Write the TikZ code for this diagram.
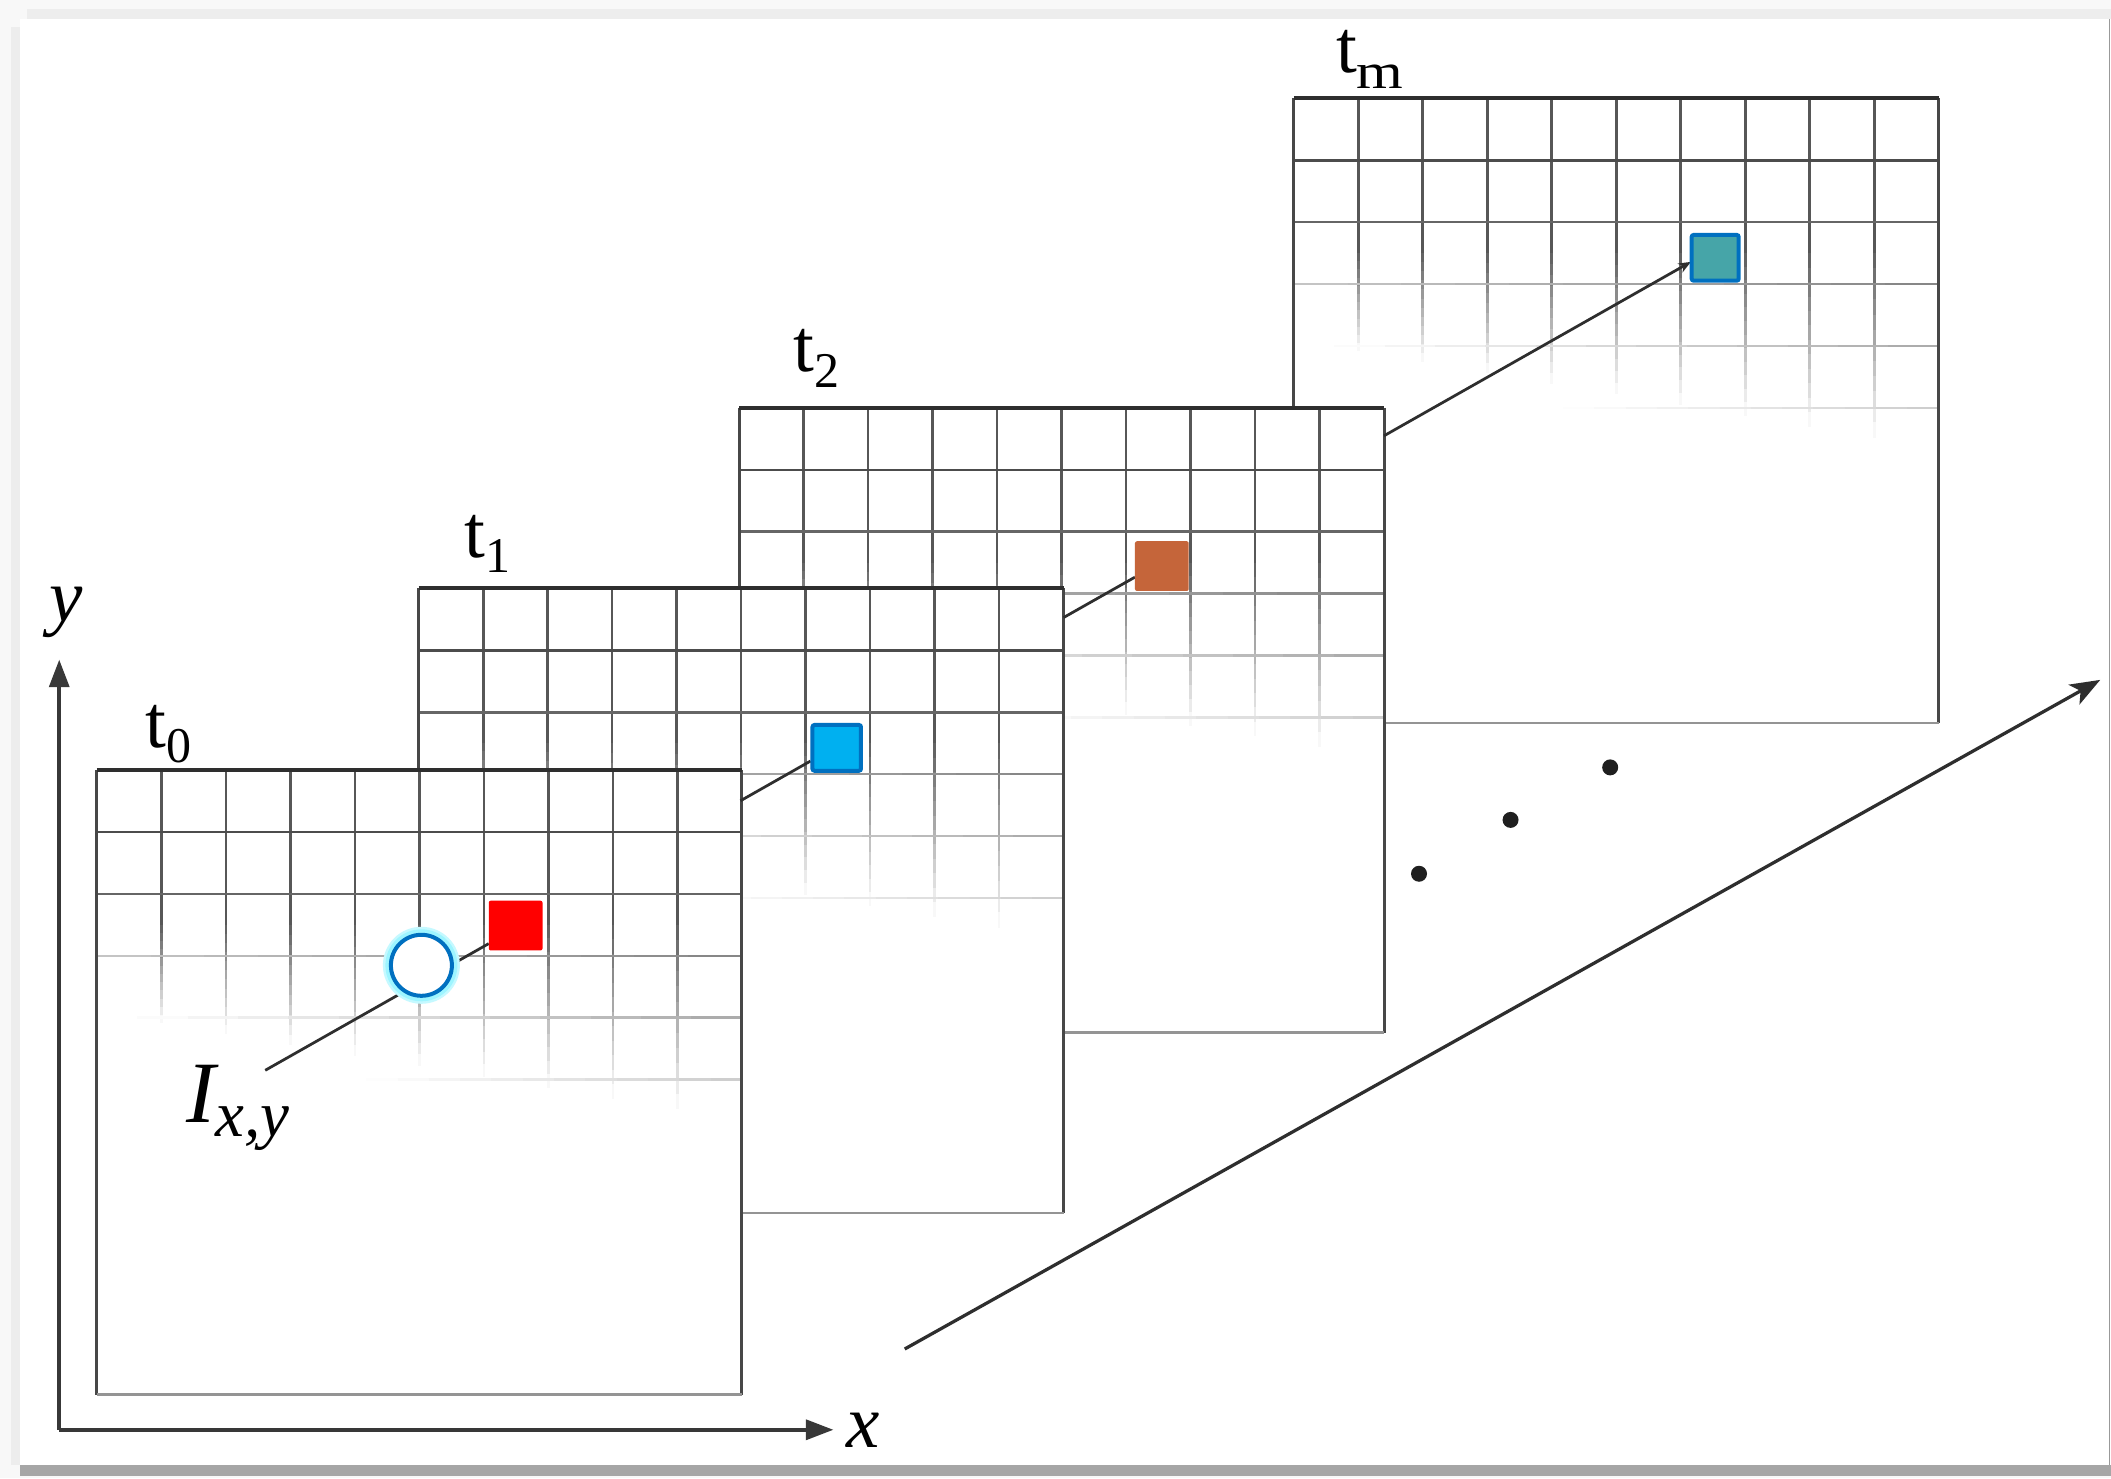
\documentclass[tikz,border=0pt]{standalone}
\usepackage{fontspec}
\setmainfont{Liberation Serif}
\usetikzlibrary{arrows.meta}
\definecolor{pixred}{HTML}{FF0000}
\definecolor{pixblue}{HTML}{00B0F0}
\definecolor{pixborder}{HTML}{0070C0}
\definecolor{pixorange}{HTML}{C5653A}
\definecolor{pixteal}{HTML}{46A5A8}
\definecolor{glowc}{HTML}{9EF5FF}
\definecolor{bgout}{HTML}{F8F8F8}
\definecolor{stripc}{HTML}{EDEDED}
\definecolor{bandc}{HTML}{A6A6A6}
\newcommand{\tsub}[1]{\raisebox{-6.2pt}{\fontsize{20}{20}\selectfont #1}}
% a grid line that fades from #5 to #6 percent black, drawn as short segments
\newcommand{\fadeline}[6]{%
  \foreach \k in {0,...,11}{
    \pgfmathsetmacro{\cc}{(#5)+((#6)-(#5))*(\k+0.5)/12}
    \draw[gridl, black!\cc] ({(#1)+((#3)-(#1))*\k/12},{(#2)+((#4)-(#2))*\k/12}) -- ({(#1)+((#3)-(#1))*(\k+1)/12},{(#2)+((#4)-(#2))*(\k+1)/12});
  }
}
\newcommand{\drawframe}[2]{%
  \fill[white] (#1,#2) rectangle ({#1+479},{#2+464});
  \foreach \i in {1,...,9}{
    \draw[gridl, black!66] ({#1+47.9*\i},#2) -- ({#1+47.9*\i},{#2+115});
    \fadeline{#1+47.9*\i}{#2+115}{#1+47.9*\i}{#2+180+8*\i}{64}{0}
  }
  \draw[gridl, black!70] (#1,{#2+46}) -- ({#1+479},{#2+46});
  \draw[gridl, black!60] (#1,{#2+92}) -- ({#1+479},{#2+92});
  \fadeline{#1}{#2+138}{#1+479}{#2+138}{22}{48}
  \fadeline{#1+30}{#2+184}{#1+479}{#2+184}{0}{34}
  \fadeline{#1+200}{#2+230}{#1+479}{#2+230}{0}{20}
  \draw[edgeside] (#1,#2) -- (#1,{#2+464});
  \draw[edgeside] ({#1+479},#2) -- ({#1+479},{#2+464});
  \draw[edgebottom] (#1,{#2+464}) -- ({#1+479},{#2+464});
  \draw[edgetop] (#1,#2) -- ({#1+479},#2);
}
\begin{document}
\begin{tikzpicture}[x=0.5385pt, y=-0.5385pt,
  gridl/.style={line width=1.05pt},
  edgetop/.style={line width=1.6pt, black!82},
  edgeside/.style={line width=1.2pt, black!72},
  edgebottom/.style={line width=1.1pt, black!42},
  conn/.style={line width=1.1pt, black!82},
  axisline/.style={line width=1.4pt, black!78, -{Triangle[length=11pt,width=8pt]}},
  pixel/.style={rectangle, inner sep=0pt, rounded corners=0.8pt},
  lab/.style={inner sep=0pt, anchor=base west, font=\fontsize{30}{30}\selectfont},
  axlab/.style={inner sep=0pt, anchor=base, font=\fontsize{30}{30}\selectfont\itshape},
  dotn/.style={circle, fill=black!88, inner sep=0pt, minimum size=6.4pt}
]
% background
\fill[bgout] (0,0) rectangle (1568,1098);
\fill[stripc] (20,7) rectangle (1568,14);
\fill[stripc] (8,20) rectangle (15,1088);
\fill[white] (15,14) rectangle (1568,1088);
\fill[bandc] (15,1088) rectangle (1568,1096);
\draw[black!40, line width=0.6pt] (1567,14) -- (1567,1088);
\useasboundingbox (0,0) rectangle (1568,1098);

% frames, back to front
\drawframe{961}{73}
\drawframe{549}{303}
\drawframe{311}{437}
\drawframe{72}{572}

% connector path points
\coordinate (a0) at (197,795);
\coordinate (b0) at (363,700.9);
\coordinate (a1) at (550,594.8);
\coordinate (b1) at (602,565.3);
\coordinate (a2) at (790,458.7);
\coordinate (b2) at (843,428.7);
\coordinate (a3) at (1028,323.7);
\coordinate (b3) at (1256,194.5);

\draw[conn] (a0) -- (b0);
\draw[conn] (a1) -- (b1);
\draw[conn] (a2) -- (b2);
\draw[conn, -{Stealth[length=5pt,width=4pt]}] (a3) -- (b3);

% pixels
\node[pixel, fill=pixred, minimum width=21.5pt, minimum height=19.9pt] (p0) at (383,687.5) {};
\node[pixel, fill=pixblue, draw=pixborder, line width=1.6pt, minimum width=19.4pt, minimum height=18.3pt] (p1) at (621.5,555.5) {};
\node[pixel, fill=pixorange, minimum width=21.5pt, minimum height=19.9pt] (p2) at (863,420.5) {};
\node[pixel, fill=pixteal, draw=pixborder, line width=1.6pt, minimum width=18.8pt, minimum height=18.3pt] (p3) at (1274,191.5) {};

% circle with glow
\fill[glowc!60] (313,717) circle[radius=15.4pt];
\fill[glowc] (313,717) circle[radius=14.4pt];
\node[circle, draw=pixborder, line width=1.6pt, fill=white, minimum size=24.4pt, inner sep=0pt] (pix) at (313,717) {};

% frame labels
\node[lab] (lt0) at (108,555) {t\tsub{0}};
\node[lab] (lt1) at (345,414) {t\tsub{1}};
\node[lab] (lt2) at (589,276) {t\tsub{2}};
\node[lab] (ltm) at (992,54) {t\tsub{\scalebox{1.2}[1]{m}}};
\node[inner sep=0pt, anchor=base west, font=\fontsize{35}{35}\selectfont\itshape] (lI) at (138,834) {I\raisebox{-5.4pt}{\fontsize{26}{26}\selectfont x,y}};

% axes
\coordinate (O) at (44,1062);
\coordinate (Ya) at (44,490);
\coordinate (Xa) at (619,1062);
\draw[axisline] (O) -- (Ya);
\draw[axisline] (O) -- (Xa);
\node[axlab] (ly) at (49,462) {y};
\node[axlab] (lx) at (641,1075) {x};

% time arrow
\coordinate (dA) at (672,1002);
\coordinate (dB) at (1560,505);
\draw[line width=1.3pt, black!82, -{Stealth[length=12pt,width=9pt,inset=3pt]}] (dA) -- (dB);

% dots
\node[dotn] (d1) at (1054,649) {};
\node[dotn] (d2) at (1122,609) {};
\node[dotn] (d3) at (1196,570) {};
\end{tikzpicture}
\end{document}
